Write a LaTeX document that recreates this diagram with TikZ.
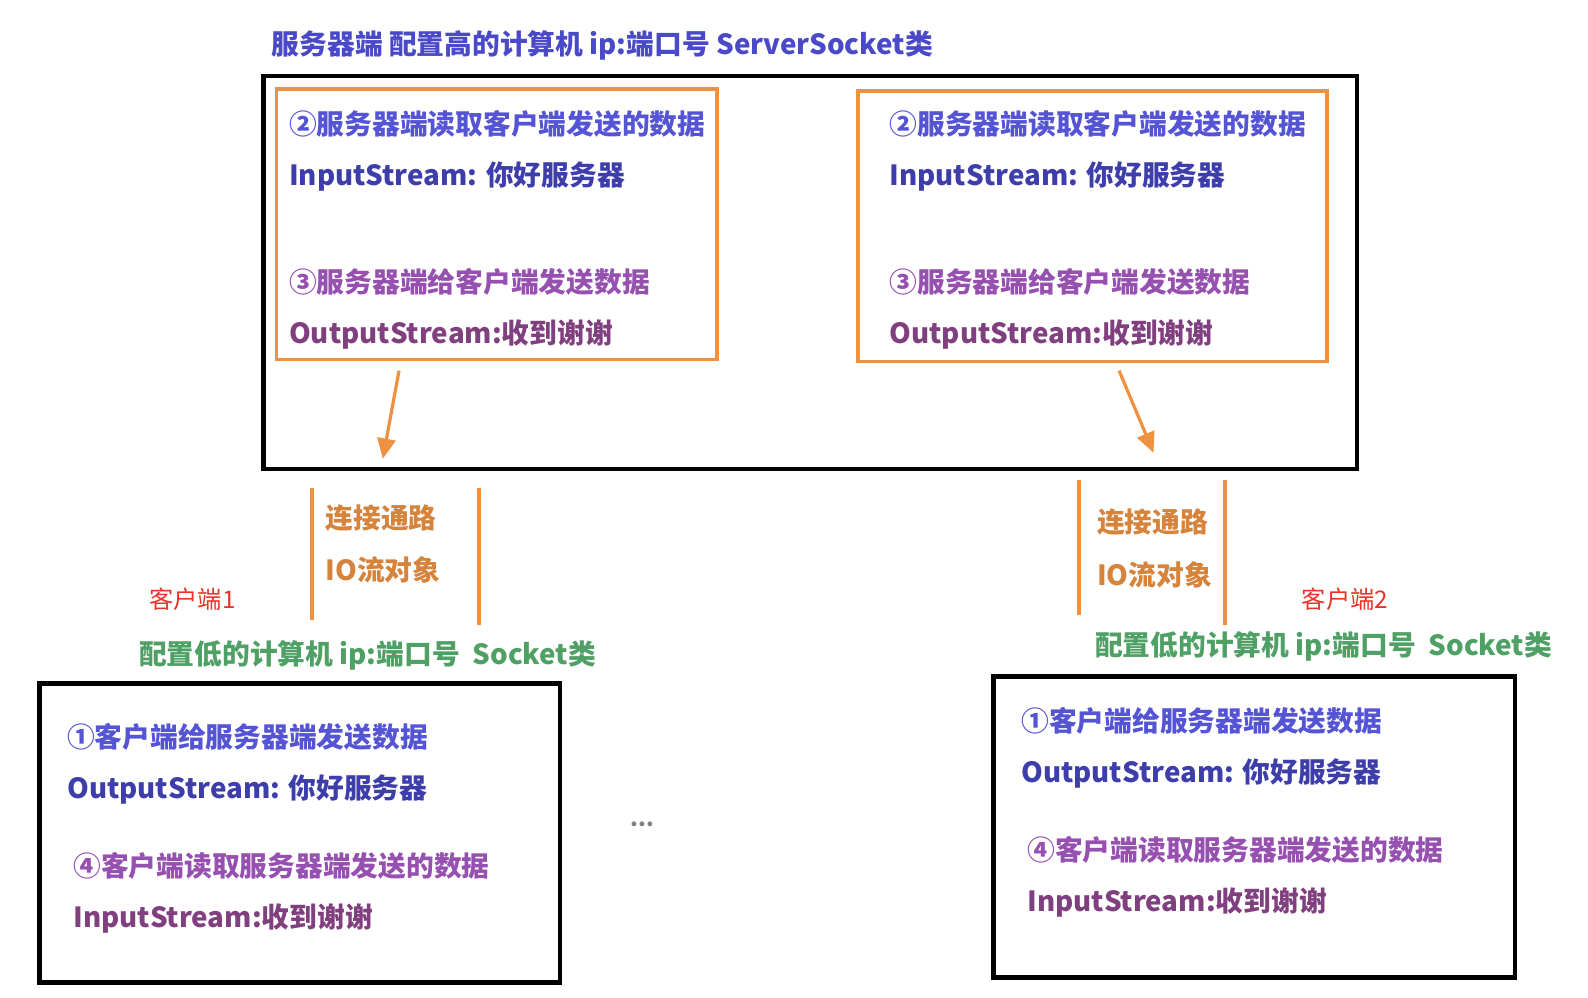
\documentclass[tikz,border=0pt]{standalone}
\usepackage{fontspec}
\setmainfont{Noto Sans CJK SC}
\usetikzlibrary{arrows.meta}
\definecolor{ttlblue}{RGB}{74,74,200}
\definecolor{lineblue}{RGB}{84,84,212}
\definecolor{darkblue}{RGB}{62,62,170}
\definecolor{lilac}{RGB}{150,80,175}
\definecolor{mauve}{RGB}{128,64,128}
\definecolor{boxorange}{RGB}{238,146,66}
\definecolor{clientred}{RGB}{232,52,40}
\definecolor{sockgreen}{RGB}{78,160,100}
\begin{document}
\begin{tikzpicture}[x=0.5pt,y=-0.5pt,
  txt/.style={anchor=west,inner sep=0,font=\fontsize{13.7}{16}\selectfont\bfseries},
  pathtxt/.style={txt,text=boxorange!90!black},
  frame/.style={draw=black,line width=2.2pt},
  obox/.style={draw=boxorange,line width=1.8pt},
  oline/.style={draw=boxorange,line width=2pt},
  oarrow/.style={draw=boxorange,line width=1.6pt,-{Triangle[length=10pt,width=9pt]}},
  clientlbl/.style={anchor=west,inner sep=0,text=clientred,font=\fontsize{12}{14}\selectfont}]
\useasboundingbox (0,0) rectangle (1568,985);

% server side
\node[txt,text=ttlblue] (title) at (268,45) {服务器端 配置高的计算机 ip:端口号 ServerSocket类};
\draw[frame] (260,75) rectangle (1340,463);

\draw[obox] (273,88) rectangle (708,355);
\node[txt,text=lineblue] (l2) at (285,122) {②服务器端读取客户端发送的数据};
\node[txt,text=darkblue] (lin) at (285,174) {InputStream: 你好服务器};
\node[txt,text=lilac] (l3) at (285,278) {③服务器端给客户端发送数据};
\node[txt,text=mauve] (lout) at (285,330) {OutputStream:收到谢谢};

\draw[obox] (847,90) rectangle (1310,357);
\node[txt,text=lineblue] (r2) at (878,122) {②服务器端读取客户端发送的数据};
\node[txt,text=darkblue] (rin) at (878,174) {InputStream: 你好服务器};
\node[txt,text=lilac] (r3) at (878,278) {③服务器端给客户端发送数据};
\node[txt,text=mauve] (rout) at (878,330) {OutputStream:收到谢谢};

% arrows towards the connections
\coordinate (la1) at (394,366);
\coordinate (la2) at (378,453);
\coordinate (ra1) at (1105,366);
\coordinate (ra2) at (1139,447);
\draw[oarrow] (la1) -- (la2);
\draw[oarrow] (ra1) -- (ra2);

% left connection channel
\coordinate (lc1a) at (308,482); \coordinate (lc1b) at (308,612);
\coordinate (lc2a) at (473,482); \coordinate (lc2b) at (473,617);
\draw[oline] (lc1a) -- (lc1b);
\draw[oline] (lc2a) -- (lc2b);
\node[pathtxt] (lp1) at (321,512) {连接通路};
\node[pathtxt] (lp2) at (321,563) {IO流对象};

% right connection channel
\coordinate (rc1a) at (1065,474); \coordinate (rc1b) at (1065,607);
\coordinate (rc2a) at (1210,474); \coordinate (rc2b) at (1210,617);
\draw[oline] (rc1a) -- (rc1b);
\draw[oline] (rc2a) -- (rc2b);
\node[pathtxt] (rp1) at (1083,516) {连接通路};
\node[pathtxt] (rp2) at (1083,568) {IO流对象};

% client labels
\node[clientlbl] (c1) at (147,592) {客户端1};
\node[clientlbl] (c2) at (1285,592) {客户端2};
\node[txt,text=sockgreen] (g1) at (137,647) {配置低的计算机 ip:端口号\ \ Socket类};
\node[txt,text=sockgreen] (g2) at (1081,638) {配置低的计算机 ip:端口号\ \ Socket类};

% client 1
\draw[frame] (39,675) rectangle (553,970);
\node[txt,text=lineblue] (a1) at (66,728) {①客户端给服务器端发送数据};
\node[txt,text=darkblue] (a2) at (66,780) {OutputStream: 你好服务器};
\node[txt,text=lilac] (a4) at (72,855) {④客户端读取服务器端发送的数据};
\node[txt,text=mauve] (a5) at (72,907) {InputStream:收到谢谢};

% client 2
\draw[frame] (981,668) rectangle (1496,965);
\node[txt,text=lineblue] (b1) at (1008,712) {①客户端给服务器端发送数据};
\node[txt,text=darkblue] (b2) at (1008,764) {OutputStream: 你好服务器};
\node[txt,text=lilac] (b4) at (1014,839) {④客户端读取服务器端发送的数据};
\node[txt,text=mauve] (b5) at (1014,891) {InputStream:收到谢谢};

\node[inner sep=0,text=gray,font=\fontsize{11}{12}\selectfont\bfseries] (dots) at (634,814) {...};
\end{tikzpicture}
\end{document}
